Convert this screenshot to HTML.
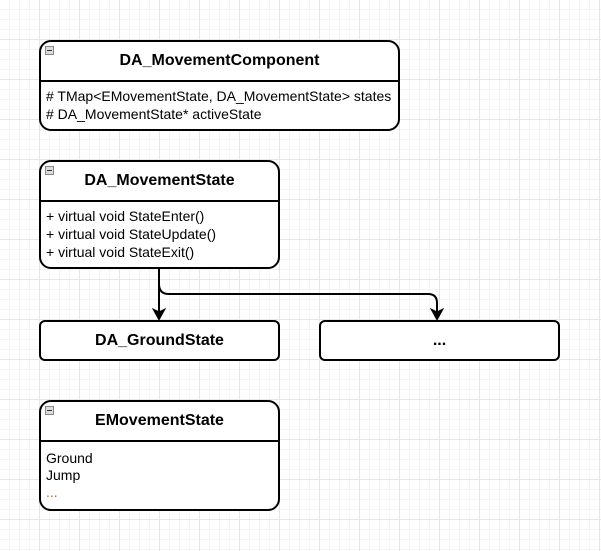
<!DOCTYPE html>
<html><head><style>
html,body{margin:0;padding:0}
body{width:601px;height:551px;overflow:hidden;background:#fff;
background-image:linear-gradient(#e6e6e6 1px,transparent 1px),linear-gradient(90deg,#e6e6e6 1px,transparent 1px),linear-gradient(#f4f4f4 1px,transparent 1px),linear-gradient(90deg,#f4f4f4 1px,transparent 1px);
background-size:40px 40px,40px 40px,10px 10px,10px 10px;background-position:-1px -1px,-1px -1px,-1px -1px,-1px -1px;
font-family:"Liberation Sans",Arial,sans-serif;position:relative}
.b{position:absolute;border:2px solid #000;border-radius:12px;background:#fff;box-sizing:border-box}
.h{font-weight:bold;font-size:16px;text-align:center;border-bottom:2px solid #000;box-sizing:border-box}
.m{position:absolute;left:4px;top:4px;width:7px;height:7px;border:1px solid #888;background:#ddd}
.m:after{content:"";position:absolute;left:1px;top:3px;width:5px;height:1px;background:#333}
.t{font-size:14px;line-height:17.5px;padding:6px 0 0 5px;white-space:nowrap}
</style></head><body>
<div class="b" style="left:39px;top:40px;width:361px;height:91px">
<div class="m"></div>
<div class="h" style="height:40px;line-height:38px">DA_MovementComponent</div>
<div class="t"># TMap&lt;EMovementState, DA_MovementState&gt; states<br># DA_MovementState* activeState</div></div>
<div class="b" style="left:39px;top:160px;width:241px;height:109px">
<div class="m"></div>
<div class="h" style="height:40px;line-height:38px">DA_MovementState</div>
<div class="t" style="line-height:18px;padding-top:5px">+ virtual void StateEnter()<br>+ virtual void StateUpdate()<br>+ virtual void StateExit()</div></div>
<div class="b" style="left:39px;top:320px;width:241px;height:41px;border-radius:6px"><div style="font-weight:bold;font-size:16px;text-align:center;line-height:37px">DA_GroundState</div></div>
<div class="b" style="left:319px;top:320px;width:241px;height:41px;border-radius:6px"><div style="font-weight:bold;font-size:16px;text-align:center;line-height:37px">...</div></div>
<div class="b" style="left:39px;top:400px;width:241px;height:111px">
<div class="m"></div>
<div class="h" style="height:40px;line-height:38px">EMovementState</div>
<div class="t" style="padding-top:8px;line-height:17px">Ground<br>Jump<br><span style="color:#c60">...</span></div></div>
<svg style="position:absolute;left:0;top:0" width="601" height="551">
<path d="M159 269 V312" stroke="#000" stroke-width="2" fill="none"/>
<path d="M159 284 Q159 294 169 294 H428 Q437 294 437 303 V312" stroke="#000" stroke-width="2" fill="none"/>
<path d="M153 309 L159 320 L165 309 L159 312 Z" fill="#000" stroke="#000"/>
<path d="M431 309 L437 320 L443 309 L437 312 Z" fill="#000" stroke="#000"/>
</svg>
</body></html>
